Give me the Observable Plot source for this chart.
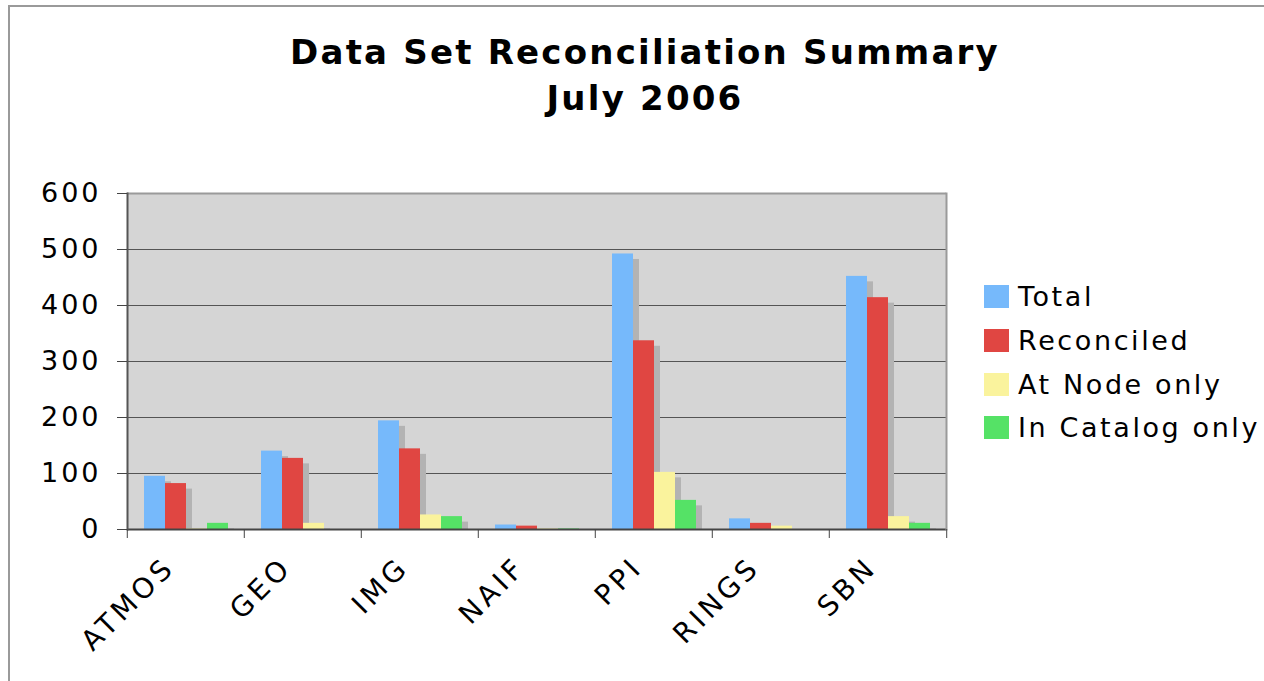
<!DOCTYPE html>
<html>
<head>
<meta charset="utf-8">
<script src="https://cdn.jsdelivr.net/npm/d3@7"></script>
<script src="https://cdn.jsdelivr.net/npm/@observablehq/plot@0.6"></script>
<style>
  html, body { margin: 0; padding: 0; background: #fff; }
  #page { position: relative; width: 1264px; height: 681px; overflow: hidden; font-family: "DejaVu Sans", Verdana, sans-serif; }
  #border { position: absolute; left: 8px; top: 5px; right: -10px; bottom: -10px; border-left: 2px solid #9a9a9a; border-top: 2px solid #9a9a9a; }
  #title { position: absolute; left: 0; width: 1290px; top: 29px; text-align: center; font-weight: bold; font-size: 34px; line-height: 46px; letter-spacing: 2.2px; color: #000; }
  #chart { position: absolute; left: 0; top: 150px; }
  #legend { position: absolute; left: 984px; top: 275px; }
  .row { height: 43.7px; display: flex; align-items: center; }
  .sw { width: 25px; height: 23px; margin-right: 9px; }
  .lb { font-size: 27px; letter-spacing: 2.6px; color: #000; white-space: nowrap; }
  #chart g[aria-label="y-axis tick label"] { font-size: 27px; letter-spacing: 3px; }
  #chart g[aria-label="fx-axis tick label"] { font-size: 28px; letter-spacing: 4px; }
</style>
</head>
<body>
<div id="page">
  <div id="border"></div>
  <div id="title">Data Set Reconciliation Summary<br>July 2006</div>
  <div id="chart"></div>
  <div id="legend"></div>
</div>
<script>
const categories = ["ATMOS", "GEO", "IMG", "NAIF", "PPI", "RINGS", "SBN"];
const seriesNames = ["Total", "Reconciled", "At Node only", "In Catalog only"];
const seriesColors = ["#76B9FB", "#E04642", "#FAF39D", "#55E266"];
const total = [95, 140, 194, 8, 492, 19, 452];
const reconciled = [82, 127, 144, 6, 337, 11, 414];
const atNodeOnly = [1, 11, 26, 1, 102, 6, 23];
const inCatalogOnly = [11, 0, 23, 1, 52, 0, 11];
const yTicks = [0, 100, 200, 300, 400, 500, 600];

const seriesValues = [total, reconciled, atNodeOnly, inCatalogOnly];
const rows = [];
categories.forEach((c, i) => {
  seriesNames.forEach((s, j) => rows.push({category: c, series: s, value: seriesValues[j][i]}));
});

const W = 960, H = 531, ML = 125, MR = 13, MT = 43, MB = 152;
const step = (W - ML - MR) / categories.length;

const plot = Plot.plot({
  width: W, height: H,
  marginLeft: ML, marginRight: MR, marginTop: MT, marginBottom: MB,
  style: {fontFamily: "'DejaVu Sans', Verdana, sans-serif", fontSize: "26px", color: "#000", overflow: "visible", background: "transparent"},
  fx: {domain: categories, paddingInner: 0, paddingOuter: 0, label: null},
  x: {domain: seriesNames, paddingInner: 0, paddingOuter: 0.743, axis: null},
  y: {domain: [0, 600], label: null},
  color: {domain: seriesNames, range: seriesColors},
  marks: [
    Plot.frame({facet: "super", fill: "#D5D5D5"}),
    Plot.gridY(yTicks.slice(1, -1), {stroke: "#555", strokeOpacity: 1, strokeWidth: 1.2}),
    Plot.ruleY([600], {stroke: "#9a9a9a", strokeWidth: 2}),
    Plot.barY(rows, {fx: "category", x: "series", y: "value", fill: "#B3B3B3", dx: 6, insetTop: 5.5}),
    Plot.barY(rows, {fx: "category", x: "series", y: "value", fill: "series"}),
    Plot.ruleY([0], {stroke: "#444", strokeWidth: 2}),
    Plot.frame({facet: "super", anchor: "right", stroke: "#9a9a9a", strokeWidth: 2}),
    Plot.frame({facet: "super", anchor: "left", stroke: "#555", strokeWidth: 2}),
    Plot.axisY({ticks: yTicks, tickSize: 10, tickPadding: 16, stroke: "#444", label: null}),
    Plot.axisFx({anchor: "bottom", tickSize: 9, tickFormat: () => "", dx: -step / 2, stroke: "#444", label: null}),
    Plot.axisFx({anchor: "bottom", ticks: [categories[categories.length - 1]], tickSize: 9, tickFormat: () => "", dx: step / 2, stroke: "#444", label: null}),
    Plot.axisFx({anchor: "bottom", tickSize: 0, tickPadding: 33, rotate: -45, textAnchor: "end", lineAnchor: "middle", dx: -16, label: null})
  ]
});
document.getElementById("chart").appendChild(plot);

const legend = document.getElementById("legend");
seriesNames.forEach((s, i) => {
  const row = document.createElement("div");
  row.className = "row";
  const sw = document.createElement("div");
  sw.className = "sw";
  sw.style.background = seriesColors[i];
  const lb = document.createElement("div");
  lb.className = "lb";
  lb.textContent = s;
  row.appendChild(sw);
  row.appendChild(lb);
  legend.appendChild(row);
});
</script>
</body>
</html>
